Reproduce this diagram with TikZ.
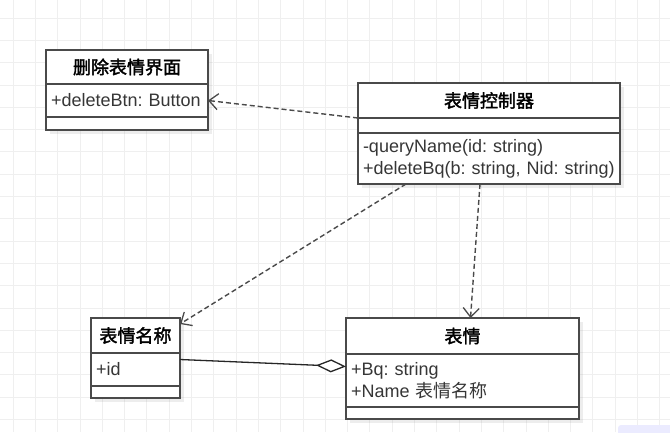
\documentclass[tikz,border=0pt]{standalone}
\usepackage{fontspec}
\setmainfont{Liberation Sans}
\newfontfamily\cjk{Noto Sans CJK SC}
\newfontfamily\cjkbold[FakeBold=2]{Noto Sans CJK SC}
\usetikzlibrary{positioning, arrows.meta, shadows}
\definecolor{umlline}{HTML}{4A4A4A}
\definecolor{umltext}{HTML}{363636}
\definecolor{gridline}{HTML}{EFEFEF}
\newcommand\partfont{\fontsize{18}{22}\selectfont\frenchspacing\hyphenpenalty=10000\relax}
\tikzstyle{classbox} = [rectangle, draw=umlline, line width=1.8pt, fill=white, inner sep=0pt, outer sep=0pt, drop shadow={shadow xshift=4pt, shadow yshift=-4pt, opacity=0.14}]
\tikzstyle{classname} = [classbox, anchor=north west, font=\cjkbold\fontsize{18}{22}\selectfont]
\tikzstyle{classpart} = [classbox, anchor=north, align=left, inner xsep=5pt, text=umltext, font=\partfont]
\tikzstyle{emptypart} = [classbox, anchor=north]
\tikzstyle{dep} = [draw=umlline, line width=1.4pt, dash pattern=on 5pt off 3pt, -{Straight Barb[length=9pt, width=16pt, line width=1.3pt]}]
\tikzstyle{aggr} = [draw=black!85, line width=1.3pt, -{Diamond[open, length=30pt, width=13pt, line width=1.3pt, fill=white]}]

\begin{document}
\begin{tikzpicture}[x=1pt, y=-1pt]
\useasboundingbox (0,0) rectangle (670,432);

% Background grid
\foreach \i in {0,...,29} {
  \draw [gridline, line width=0.8pt] (13+22.3*\i,0) -- (13+22.3*\i,432);
}
\foreach \j in {0,...,19} {
  \draw [gridline, line width=0.8pt] (0,18+22.3*\j) -- (670,18+22.3*\j);
}
\fill [blue!8, rounded corners=3pt] (618,425) rectangle (680,440);

% Delete view
\node (ui) [classname, minimum width=162pt, minimum height=34pt] at (46,50) {删除表情界面};
\node (uiattr) [classpart, text width=152pt, minimum height=33pt, below=0pt of ui] {+deleteBtn: Button};
\node (uiops) [emptypart, minimum width=162pt, minimum height=13pt, below=0pt of uiattr] {};

% Controller
\node (ctrl) [classname, minimum width=262pt, minimum height=35pt] at (358,83) {表情控制器};
\node (ctrlattr) [emptypart, minimum width=262pt, minimum height=15pt, below=0pt of ctrl] {};
\node (ctrlops) [classpart, text width=252pt, minimum height=51pt, below=0pt of ctrlattr] {-queryName(id: string)\\+deleteBq(b: string, Nid: string)};

% Name
\node (name) [classname, minimum width=89pt, minimum height=35pt] at (91,318) {表情名称};
\node (nameattr) [classpart, text width=79pt, minimum height=33pt, below=0pt of name] {+id};
\node (nameops) [emptypart, minimum width=89pt, minimum height=12pt, below=0pt of nameattr] {};

% Expression
\node (bq) [classname, minimum width=233pt, minimum height=36pt] at (346,318) {表情};
\node (bqattr) [classpart, text width=223pt, minimum height=53pt, below=0pt of bq] {+Bq: string\\+Name {\cjk 表情名称}};
\node (bqops) [emptypart, minimum width=233pt, minimum height=12pt, below=0pt of bqattr] {};

% Dependencies from the controller
\draw [dep] (ctrl.south west) -- (uiattr.east);
\draw [dep] ([xshift=48pt]ctrlops.south west) -- ([yshift=-6pt]name.north east);
\draw [dep] ([xshift=122pt]ctrlops.south west) -- ([xshift=8pt]bq.north);

% Aggregation
\draw [aggr] ([yshift=10pt]nameattr.east) -- ([yshift=14pt]bqattr.west);

\end{tikzpicture}
\end{document}
